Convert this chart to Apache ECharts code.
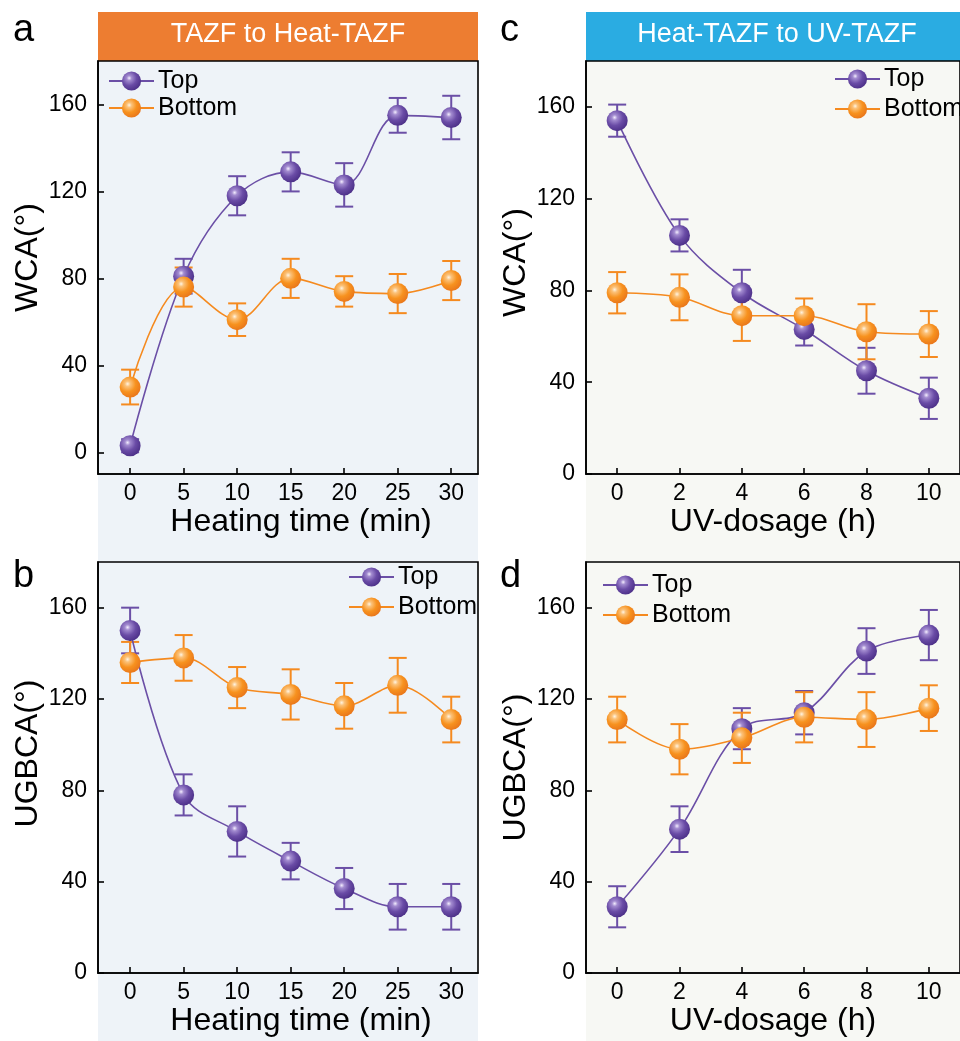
<!DOCTYPE html>
<html>
<head>
<meta charset="utf-8">
<script src="https://cdn.jsdelivr.net/npm/echarts@6/dist/echarts.min.js"></script>
<style>html,body{margin:0;padding:0;background:#fff}#c{width:960px;height:1041px}</style>
</head>
<body>
<div id="c"></div>
<script>
// ---- data ----
const heatTimes = [0, 5, 10, 15, 20, 25, 30];
const uvDoses = [0, 2, 4, 6, 8, 10];
const heatTicks = [0, 5, 10, 15, 20, 25, 30];
const uvTicks = [0, 2, 4, 6, 8, 10];
const angleTicks = [0, 40, 80, 120, 160];

const wcaHeatTop = [3, 81, 118, 129, 123, 155, 154];
const wcaHeatTopErr = [3, 8, 9, 9, 10, 8, 10];
const wcaHeatBottom = [30, 76, 61, 80, 74, 73, 79];
const wcaHeatBottomErr = [8, 9, 7.5, 9, 7, 9, 9];

const ugbcaHeatTop = [150, 78, 62, 49, 37, 29, 29];
const ugbcaHeatTopErr = [10, 9, 11, 8, 9, 10, 10];
const ugbcaHeatBottom = [136, 138, 125, 122, 117, 126, 111];
const ugbcaHeatBottomErr = [9, 10, 9, 11, 10, 12, 10];

const wcaUVTop = [154, 104, 79, 63, 45, 33];
const wcaUVTopErr = [7, 7, 10, 7, 10, 9];
const wcaUVBottom = [79, 77, 69, 69, 62, 61];
const wcaUVBottomErr = [9, 10, 11, 7.5, 12, 10];

const ugbcaUVTop = [29, 63, 107, 114, 141, 148];
const ugbcaUVTopErr = [9, 10, 9, 9.5, 10, 11];
const ugbcaUVBottom = [111, 98, 103, 112, 111, 116];
const ugbcaUVBottomErr = [10, 11, 11, 11, 12, 10];

// ---- styles ----
const FONT = 'Liberation Sans, Arial, sans-serif';
const PURPLE = '#6B4FA6';
const ORANGE = '#F58A1F';
const purpleBall = {type:'radial', x:0.38, y:0.35, r:0.7, colorStops:[
  {offset:0, color:'#F4EEFF'}, {offset:0.18, color:'#A38CD0'}, {offset:0.55, color:'#6A4CA6'}, {offset:1, color:'#4A2E86'}]};
const orangeBall = {type:'radial', x:0.38, y:0.35, r:0.7, colorStops:[
  {offset:0, color:'#FFF4E2'}, {offset:0.18, color:'#FBC27A'}, {offset:0.55, color:'#F7921F'}, {offset:1, color:'#E8741A'}]};

const grids = [
  {left:98, top:61, width:380, height:413},
  {left:98, top:562, width:380, height:411},
  {left:586, top:61, width:380, height:413},
  {left:586, top:562, width:380, height:411}
].map(g => Object.assign({show:true, borderColor:'#000', borderWidth:1.6, backgroundColor:'transparent'}, g));

function xAxis(gi, min, max, ticks, name, gap, shift) {
  return {type:'value', gridIndex:gi, min:min, max:max,
    name:name, nameLocation:'middle', nameGap:gap,
    nameTextStyle:{fontFamily:FONT, fontSize:32, color:'#000', padding:[0, 0, 0, shift]},
    axisLine:{onZero:false, lineStyle:{color:'#000', width:1.6}},
    axisTick:{inside:true, length:6, customValues:ticks, lineStyle:{color:'#000', width:1.6}},
    axisLabel:{customValues:ticks, margin:8, fontFamily:FONT, fontSize:23, color:'#000'},
    splitLine:{show:false}};
}
function yAxis(gi, min, name, shift) {
  return {type:'value', gridIndex:gi, min:min, max:180,
    name:name, nameLocation:'middle', nameGap:54,
    nameTextStyle:{fontFamily:FONT, fontSize:32, color:'#000', padding:[0, 0, 0, shift]},
    axisLine:{onZero:false, lineStyle:{color:'#000', width:1.6}},
    axisTick:{inside:true, length:6, customValues:angleTicks, lineStyle:{color:'#000', width:1.6}},
    axisLabel:{customValues:angleTicks, margin:11, fontFamily:FONT, fontSize:23, color:'#000'},
    splitLine:{show:false}};
}

function lineSeries(gi, name, xs, ys, color, ball) {
  return {type:'line', name:name, xAxisIndex:gi, yAxisIndex:gi, smooth:0.35,
    data: xs.map((x, i) => [x, ys[i]]),
    symbol:'circle', symbolSize:21, showSymbol:true,
    lineStyle:{color:color, width:1.6},
    itemStyle:{color:ball, borderWidth:0},
    z:3};
}
function errSeries(gi, name, xs, ys, es, color) {
  return {type:'custom', name:name, xAxisIndex:gi, yAxisIndex:gi,
    data: xs.map((x, i) => [x, ys[i] - es[i], ys[i] + es[i]]),
    encode:{x:0, y:[1, 2]},
    renderItem: function (params, api) {
      const x = api.value(0);
      const lo = api.coord([x, api.value(1)]);
      const hi = api.coord([x, api.value(2)]);
      const hw = 9;
      const st = {stroke:color, lineWidth:2, fill:null};
      return {type:'group', children:[
        {type:'line', shape:{x1:hi[0], y1:hi[1], x2:lo[0], y2:lo[1]}, style:st},
        {type:'line', shape:{x1:hi[0]-hw, y1:hi[1], x2:hi[0]+hw, y2:hi[1]}, style:st},
        {type:'line', shape:{x1:lo[0]-hw, y1:lo[1], x2:lo[0]+hw, y2:lo[1]}, style:st}
      ]};
    },
    z:3};
}

function legend(left, top, gap) {
  return {orient:'vertical', left:left, top:top, padding:0, itemWidth:45, itemHeight:24, itemGap:gap,
    data:['Top', 'Bottom'], selectedMode:false,
    textStyle:{fontFamily:FONT, fontSize:25, lineHeight:26, color:'#000', padding:[0, 0, 0, -1]}};
}

const panels = [
  {gi:0, xs:heatTimes, top:wcaHeatTop, topE:wcaHeatTopErr, bot:wcaHeatBottom, botE:wcaHeatBottomErr},
  {gi:1, xs:heatTimes, top:ugbcaHeatTop, topE:ugbcaHeatTopErr, bot:ugbcaHeatBottom, botE:ugbcaHeatBottomErr},
  {gi:2, xs:uvDoses, top:wcaUVTop, topE:wcaUVTopErr, bot:wcaUVBottom, botE:wcaUVBottomErr},
  {gi:3, xs:uvDoses, top:ugbcaUVTop, topE:ugbcaUVTopErr, bot:ugbcaUVBottom, botE:ugbcaUVBottomErr}
];
const series = [];
panels.forEach(p => {
  series.push(errSeries(p.gi, 'Top err', p.xs, p.top, p.topE, PURPLE));
  series.push(lineSeries(p.gi, 'Top', p.xs, p.top, PURPLE, purpleBall));
  series.push(errSeries(p.gi, 'Bottom err', p.xs, p.bot, p.botE, ORANGE));
  series.push(lineSeries(p.gi, 'Bottom', p.xs, p.bot, ORANGE, orangeBall));
});

const option = {
  animation:false,
  backgroundColor:'#fff',
  graphic:[
    {type:'rect', shape:{x:98, y:61, width:380, height:980}, style:{fill:'#EEF3F8'}, z:-10},
    {type:'rect', shape:{x:586, y:61, width:374, height:980}, style:{fill:'#F7F8F4'}, z:-10},
    {type:'rect', shape:{x:98, y:12, width:380, height:49}, style:{fill:'#ED7D31'}, z:-5},
    {type:'rect', shape:{x:586, y:12, width:374, height:49}, style:{fill:'#2AACE2'}, z:-5},
    {type:'text', x:288, y:35, z:10, style:{text:'TAZF to Heat-TAZF', fontFamily:FONT, fontSize:27, fill:'#fff', align:'center', verticalAlign:'middle'}},
    {type:'text', x:777, y:35, z:10, style:{text:'Heat-TAZF to UV-TAZF', fontFamily:FONT, fontSize:27, fill:'#fff', align:'center', verticalAlign:'middle'}},
    {type:'text', x:13, y:31, z:10, style:{text:'a', fontFamily:FONT, fontSize:38, fill:'#000', verticalAlign:'middle'}},
    {type:'text', x:13, y:577, z:10, style:{text:'b', fontFamily:FONT, fontSize:38, fill:'#000', verticalAlign:'middle'}},
    {type:'text', x:500, y:31, z:10, style:{text:'c', fontFamily:FONT, fontSize:38, fill:'#000', verticalAlign:'middle'}},
    {type:'text', x:500, y:577, z:10, style:{text:'d', fontFamily:FONT, fontSize:38, fill:'#000', verticalAlign:'middle'}}
  ],
  grid:grids,
  xAxis:[
    xAxis(0, -3, 32.5, heatTicks, 'Heating time (min)', 30, 26),
    xAxis(1, -3, 32.5, heatTicks, 'Heating time (min)', 30, 26),
    xAxis(2, -1, 11, uvTicks, 'UV-dosage (h)', 30, 0),
    xAxis(3, -1, 11, uvTicks, 'UV-dosage (h)', 30, 0)
  ],
  yAxis:[
    yAxis(0, -10, 'WCA(°)', 20),
    yAxis(1, 0, 'UGBCA(°)', 28),
    yAxis(2, 0, 'WCA(°)', 10),
    yAxis(3, 0, 'UGBCA(°)', 0)
  ],
  legend:[
    legend(108, 68, 1),
    legend(348, 564, 4),
    legend(834, 66, 4),
    legend(602, 572, 4)
  ],
  series:series
};

const chart = echarts.init(document.getElementById('c'), null, {renderer:'canvas'});
chart.setOption(option);
</script>
</body>
</html>
